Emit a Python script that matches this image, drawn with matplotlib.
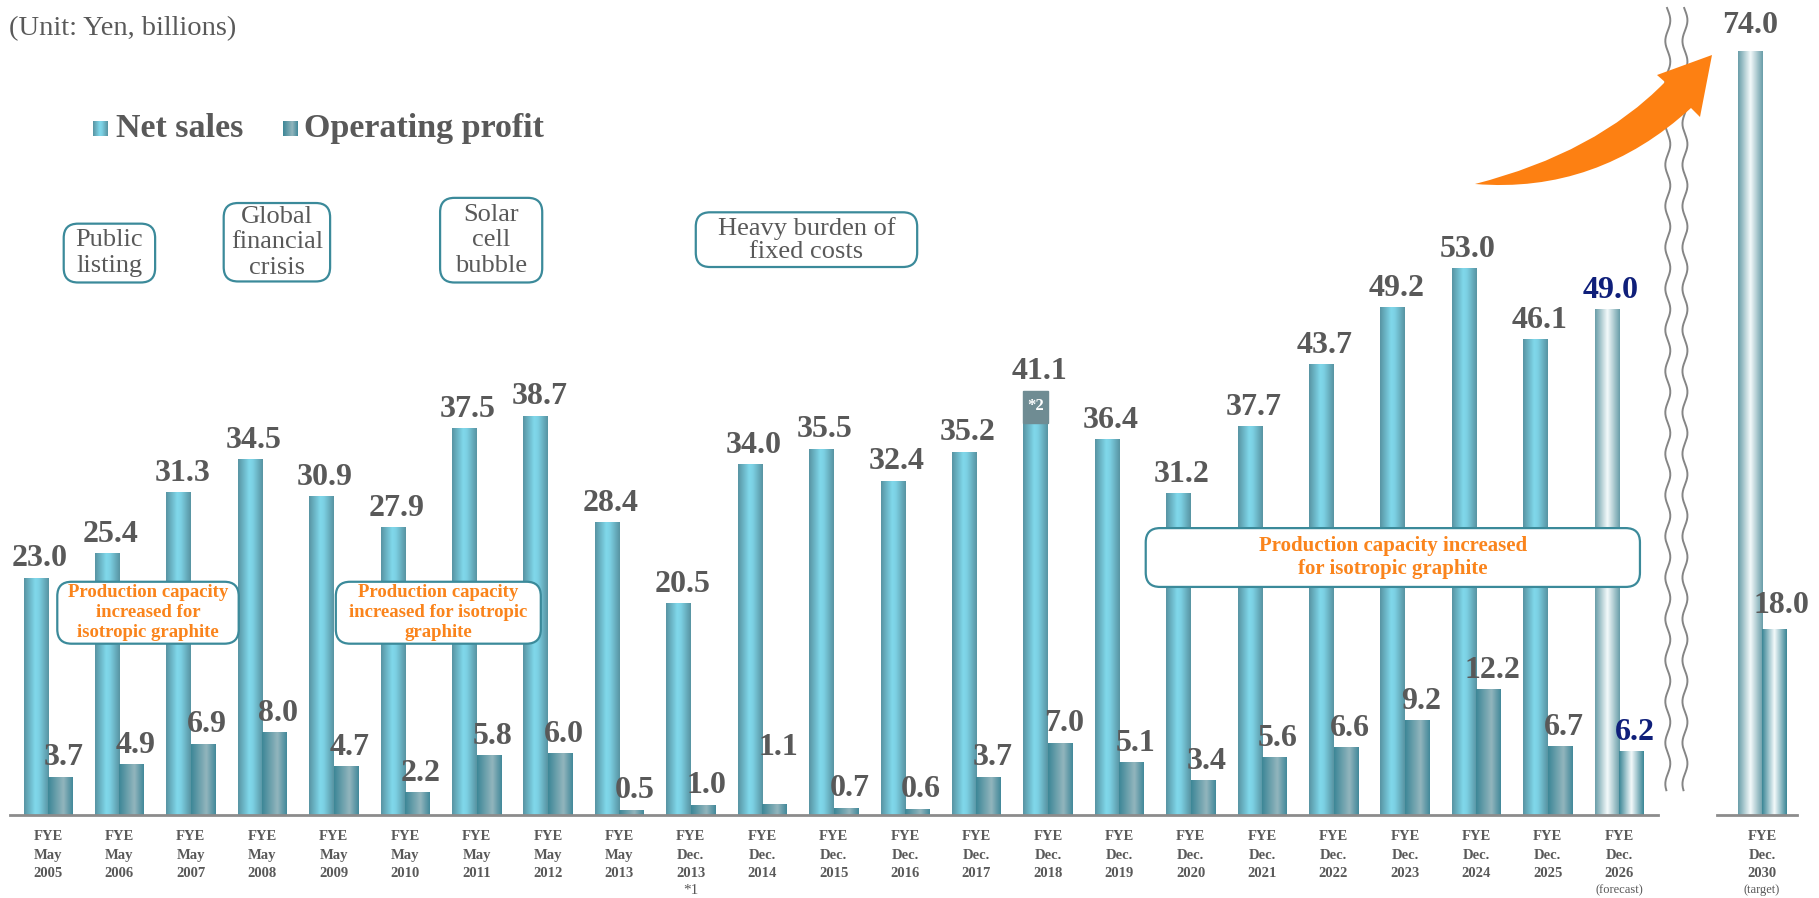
"""
Net sales and operating profit bar chart (Yen, billions)
"""

import numpy as np
import matplotlib
matplotlib.use('Agg')
import matplotlib.pyplot as plt
from matplotlib.colors import LinearSegmentedColormap
from matplotlib.patches import FancyBboxPatch, Rectangle, PathPatch
from matplotlib.path import Path

# Data
periods = ['FYE\nMay\n2005', 'FYE\nMay\n2006', 'FYE\nMay\n2007', 'FYE\nMay\n2008',
           'FYE\nMay\n2009', 'FYE\nMay\n2010', 'FYE\nMay\n2011', 'FYE\nMay\n2012',
           'FYE\nMay\n2013', 'FYE\nDec.\n2013', 'FYE\nDec.\n2014', 'FYE\nDec.\n2015',
           'FYE\nDec.\n2016', 'FYE\nDec.\n2017', 'FYE\nDec.\n2018', 'FYE\nDec.\n2019',
           'FYE\nDec.\n2020', 'FYE\nDec.\n2021', 'FYE\nDec.\n2022', 'FYE\nDec.\n2023',
           'FYE\nDec.\n2024', 'FYE\nDec.\n2025', 'FYE\nDec.\n2026']
net_sales = [23.0, 25.4, 31.3, 34.5, 30.9, 27.9, 37.5, 38.7, 28.4, 20.5, 34.0, 35.5,
             32.4, 35.2, 41.1, 36.4, 31.2, 37.7, 43.7, 49.2, 53.0, 46.1, 49.0]
op_profit = [3.7, 4.9, 6.9, 8.0, 4.7, 2.2, 5.8, 6.0, 0.5, 1.0, 1.1, 0.7,
             0.6, 3.7, 7.0, 5.1, 3.4, 5.6, 6.6, 9.2, 12.2, 6.7, 6.2]
target_period = 'FYE\nDec.\n2030'
target_net = 74.0
target_op = 18.0
period_notes = {9: '*1', 22: '(forecast)'}
target_note = '(target)'

W, H = 1819, 898
XPX, YPX = 71.42, 10.32      # pixels per data unit
GREY = '#595959'
NAVY = '#0f1f7a'
ORANGE = '#fa841c'
TEAL = '#3b8a9a'

plt.rcParams['font.family'] = ['Liberation Serif', 'DejaVu Serif']

net_cmap = LinearSegmentedColormap.from_list(
    'net', [(0, '#5894a3'), (0.45, '#80d8eb'), (0.6, '#7cd0e3'), (1, '#5894a2')])
op_cmap = LinearSegmentedColormap.from_list(
    'op', [(0, '#3d8797'), (0.62, '#92b5bd'), (1, '#43899a')])
fc_net_cmap = LinearSegmentedColormap.from_list(
    'fcnet', [(0, '#6a9ea9'), (0.5, '#f4fafb'), (1, '#6a9ea9')])
fc_op_cmap = LinearSegmentedColormap.from_list(
    'fcop', [(0, '#3b8696'), (0.5, '#f4fafb'), (1, '#3b8696')])

fig = plt.figure(figsize=(W / 100, H / 100), dpi=100)
ax = fig.add_axes([0, 0, 1, 1])
ax.axis('off')


def gradient_fill(patch, cmap):
    """
    Paints a horizontal gradient inside a bar or square
    """
    x0, y0 = patch.get_x(), patch.get_y()
    w, h = patch.get_width(), patch.get_height()
    im = ax.imshow(np.linspace(0, 1, 64)[None, :], cmap=cmap,
                   extent=[x0, x0 + w, y0, y0 + h], aspect='auto',
                   interpolation='bilinear', zorder=patch.get_zorder())
    im.set_clip_path(patch)


# Bars
pos = np.arange(len(periods))
target_pos = 24
bw = 0.343
net_bars = ax.bar(pos - bw / 2, net_sales, bw, color='#7cd0e3', zorder=2)
op_bars = ax.bar(pos + bw / 2, op_profit, bw, color='#5a9aa8', zorder=2)
tnet_bar = ax.bar([target_pos - bw / 2], [target_net], bw, color='#cfe3e8', zorder=2)[0]
top_bar = ax.bar([target_pos + bw / 2], [target_op], bw, color='#8fbac3', zorder=2)[0]

last = len(periods) - 1
for i, (b1, b2) in enumerate(zip(net_bars, op_bars)):
    gradient_fill(b1, fc_net_cmap if i == last else net_cmap)
    gradient_fill(b2, fc_op_cmap if i == last else op_cmap)
gradient_fill(tnet_bar, fc_net_cmap)
gradient_fill(top_bar, fc_op_cmap)

# Value labels
lift = {10: 3.6}
for i in pos:
    col = NAVY if i == last else GREY
    ax.text(i - bw / 2 + 0.05, net_sales[i] + 1.1, f'{net_sales[i]:.1f}', ha='center',
            va='baseline', fontsize=23, fontweight='bold', color=col, zorder=5)
    ax.text(i + bw / 2 + 0.05, op_profit[i] + 1.1 + lift.get(i, 0), f'{op_profit[i]:.1f}',
            ha='center', va='baseline', fontsize=23, fontweight='bold', color=col, zorder=5)
ax.text(target_pos - bw / 2, target_net + 1.8, f'{target_net:.1f}', ha='center',
        va='baseline', fontsize=23, fontweight='bold', color=GREY, zorder=5)
ax.text(target_pos + bw / 2 + 0.1, target_op + 1.6, f'{target_op:.1f}', ha='center',
        va='baseline', fontsize=23, fontweight='bold', color=GREY, zorder=5)

# *2 marker on FYE Dec. 2018
b18 = net_bars[14]
ax.add_patch(Rectangle((b18.get_x(), net_sales[14] - 3.1), b18.get_width(), 3.1,
                       color='#6f8c93', zorder=3))
ax.text(b18.get_x() + b18.get_width() / 2, net_sales[14] - 1.5, '*2', ha='center',
        va='center', fontsize=12, fontweight='bold', color='white', zorder=4)

# Baselines
ax.plot([-0.53, 22.54], [0, 0], color='#8c8c8c', lw=2, zorder=4)
ax.plot([23.37, 24.49], [0, 0], color='#8c8c8c', lw=2, zorder=4)

# Category labels
for i, lab in enumerate(periods):
    ax.text(i, -3.9, lab, ha='center', va='center', fontsize=10.5, fontweight='bold',
            color=GREY, linespacing=1.55)
for i, note in period_notes.items():
    ax.text(i, -7.3, note, ha='center', va='center', fontsize=11 if note == '*1' else 9,
            color=GREY)
ax.text(target_pos, -3.9, target_period, ha='center', va='center', fontsize=10.5,
        fontweight='bold', color=GREY, linespacing=1.55)
ax.text(target_pos, -7.3, target_note, ha='center', va='center', fontsize=9, color=GREY)

# Axis break (wavy lines)
wy = np.linspace(2.4, 78.2, 600)
for wx in (22.68, 22.92):
    ax.plot(wx + 0.035 * np.sin(wy * 2 * np.pi / 4.0), wy, color='#858585', lw=1.4, zorder=4)

# Unit and legend
ax.text(-0.55, 76.2, '(Unit: Yen, billions)', ha='left', va='center', fontsize=20.5, color=GREY)
sq1 = Rectangle((0.63, 65.8), 0.21, 1.45, zorder=3)
sq2 = Rectangle((3.29, 65.8), 0.21, 1.45, zorder=3)
ax.add_patch(sq1)
ax.add_patch(sq2)
gradient_fill(sq1, net_cmap)
gradient_fill(sq2, op_cmap)
ax.text(0.95, 66.5, 'Net sales', ha='left', va='center', fontsize=24.5, fontweight='bold',
        color=GREY)
ax.text(3.58, 66.5, 'Operating profit', ha='left', va='center', fontsize=24.5,
        fontweight='bold', color=GREY)


def note_box(x0, x1, y0, y1, text, size, color, bold=False, spacing=1.2):
    """
    Rounded annotation box with centred text
    """
    box = FancyBboxPatch((x0, y0), x1 - x0, y1 - y0,
                         boxstyle='round,pad=0,rounding_size=0.2',
                         mutation_aspect=XPX / YPX, fc='white', ec=TEAL, lw=1.6, zorder=6)
    ax.add_patch(box)
    ax.text((x0 + x1) / 2, (y0 + y1) / 2, text, ha='center', va='center', fontsize=size,
            color=color, fontweight='bold' if bold else 'normal', linespacing=spacing, zorder=7)


note_box(0.22, 1.50, 51.6, 57.3, 'Public\nlisting', 19, GREY, spacing=1.2)
note_box(2.46, 3.95, 51.7, 59.3, 'Global\nfinancial\ncrisis', 19, GREY, spacing=1.2)
note_box(5.49, 6.92, 51.6, 59.8, 'Solar\ncell\nbubble', 19, GREY, spacing=1.2)
note_box(9.07, 12.17, 53.1, 58.4, 'Heavy burden of\nfixed costs', 19, GREY, spacing=1.05)
note_box(0.13, 2.67, 16.6, 22.6, 'Production capacity\nincreased for\nisotropic graphite',
         13.5, ORANGE, bold=True, spacing=1.25)
note_box(4.03, 6.90, 16.6, 22.6, 'Production capacity\nincreased for isotropic\ngraphite',
         13.5, ORANGE, bold=True, spacing=1.25)
note_box(15.37, 22.29, 22.1, 27.8, 'Production capacity increased\nfor isotropic graphite',
         15, ORANGE, bold=True, spacing=1.25)


# Orange growth arrow (figure pixel coordinates)
def fpx(x, y):
    return (x / W, 1 - y / H)


arrow_pts = [(1475, 184), (1596, 153), (1665, 82), (1657, 75), (1712, 55),
             (1700, 117), (1691, 108), (1597, 194), (1475, 184)]
codes = [Path.MOVETO, Path.CURVE3, Path.CURVE3, Path.LINETO, Path.LINETO,
         Path.LINETO, Path.LINETO, Path.CURVE3, Path.CURVE3]
arrow = PathPatch(Path([fpx(*p) for p in arrow_pts], codes), transform=fig.transFigure,
                  fc='#fd8012', ec='none', zorder=8)
fig.patches.append(arrow)

ax.set_xlim(-48 / XPX, (W - 48) / XPX)
ax.set_ylim(-(H - 815) / YPX, 815 / YPX)

fig.savefig('out.png', dpi=100)
